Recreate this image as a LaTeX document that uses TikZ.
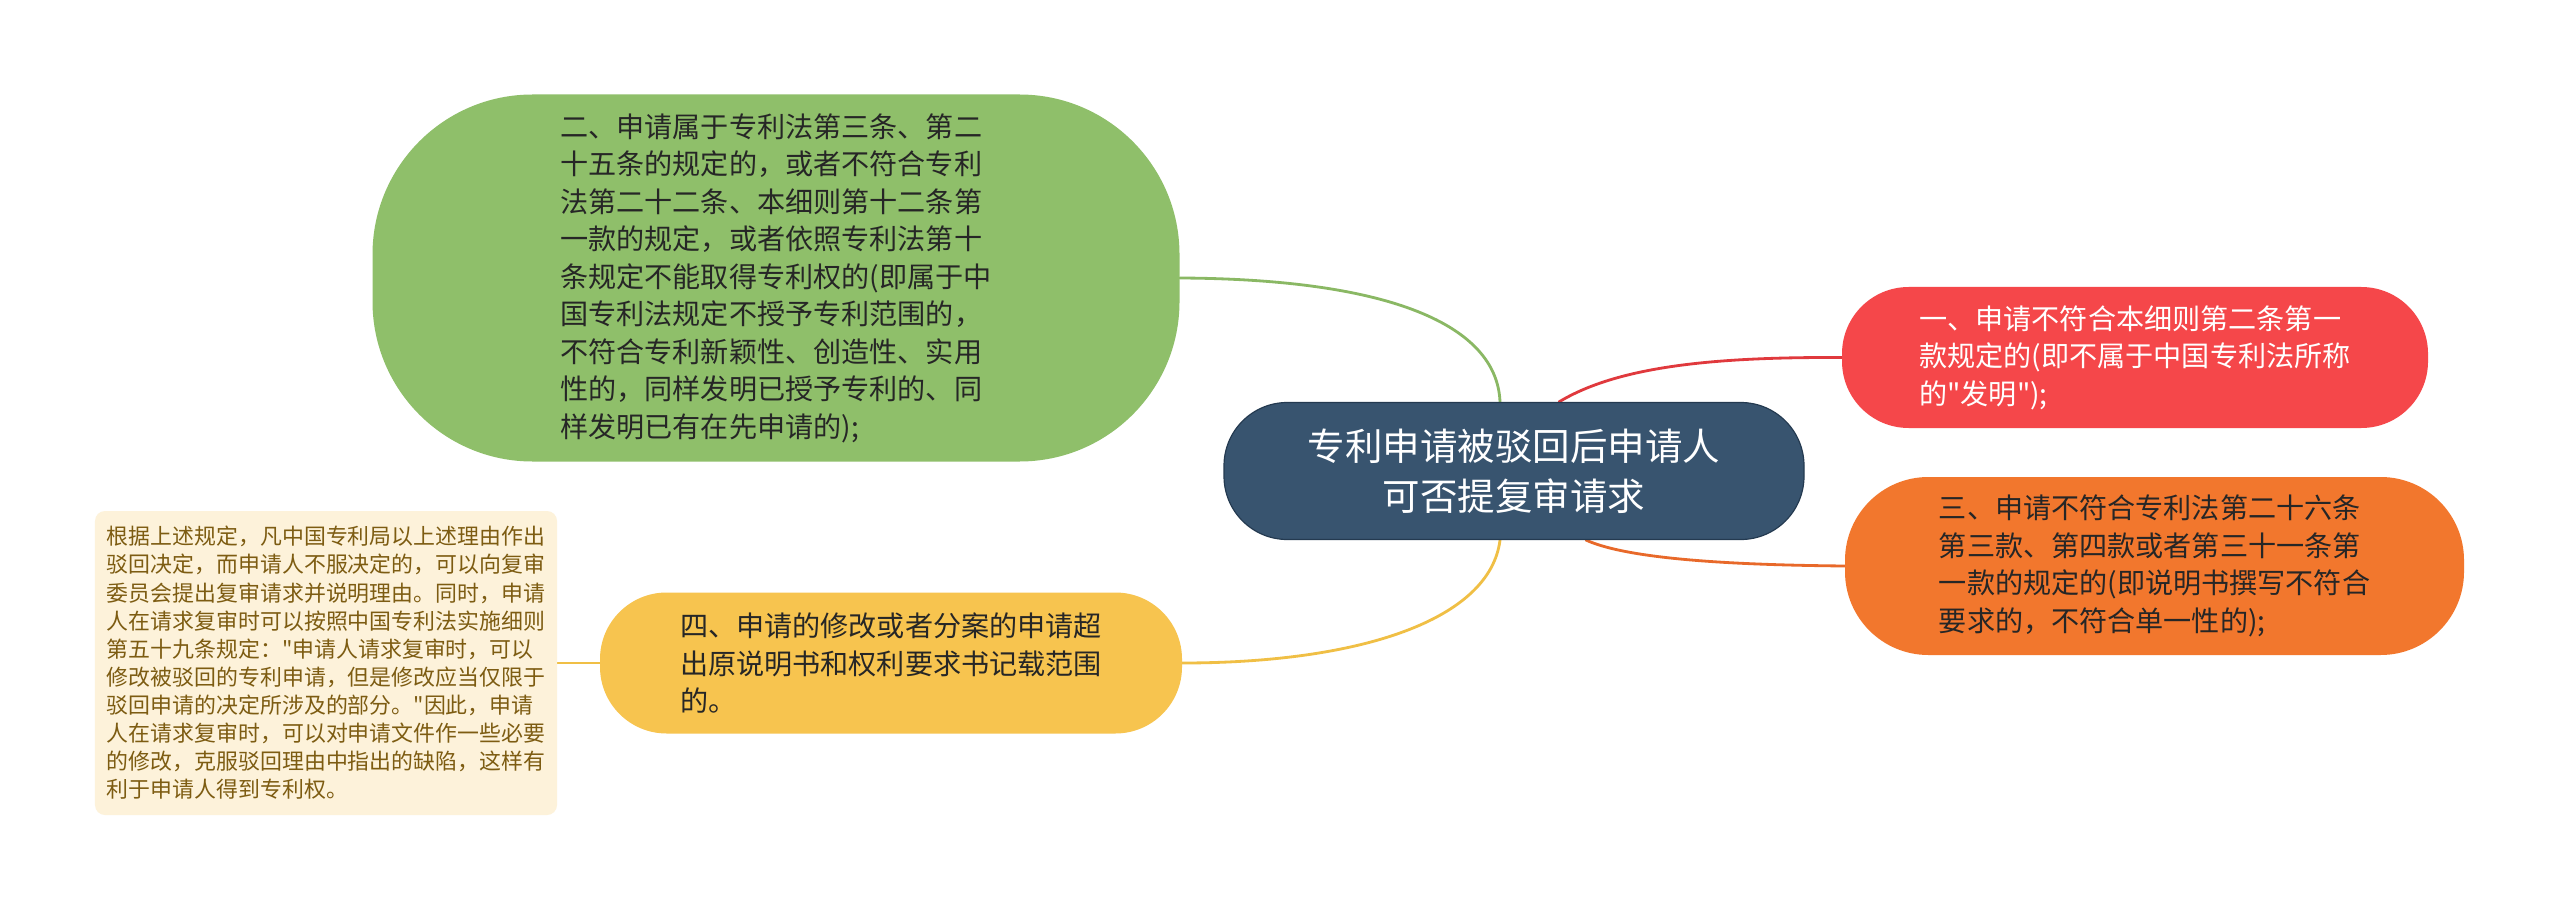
\documentclass[tikz,border=0pt]{standalone}
\usepackage{fontspec}
\setmainfont{Noto Sans CJK SC}[Ligatures=TeXOff]
\usetikzlibrary{backgrounds}
\definecolor{hubc}{HTML}{38546F}
\definecolor{hubd}{HTML}{243A50}
\definecolor{greenc}{HTML}{8FBF6A}
\definecolor{greenl}{HTML}{8AB864}
\definecolor{redc}{HTML}{F5474A}
\definecolor{redl}{HTML}{E0393D}
\definecolor{orangec}{HTML}{F2772D}
\definecolor{orangel}{HTML}{E8692A}
\definecolor{yellowc}{HTML}{F7C44F}
\definecolor{yellowl}{HTML}{F0BF45}
\definecolor{notec}{HTML}{FDF2DA}
\definecolor{notet}{HTML}{7D5C12}
\definecolor{darkt}{HTML}{262626}
\begin{document}
\begin{tikzpicture}[x=0.3mm,y=-0.3mm,
  topic/.style={rectangle, inner sep=0pt, align=left, font=\fontsize{24pt}{32pt}\selectfont},
  conn/.style={line width=2.4pt, line cap=round}]
\useasboundingbox (0,0) rectangle (2560,911);

\node[rectangle, inner sep=0pt, align=center, fill=hubc, draw=hubd, line width=1pt,
  minimum width=174mm, minimum height=41.1mm, rounded corners=19mm, text=white,
  font=\fontsize{32pt}{42.7pt}\selectfont] (hub) at (1514,471)
  {专利申请被驳回后申请人\\可否提复审请求};

\node[topic, fill=greenc, minimum width=242.1mm, minimum height=110.1mm,
  rounded corners=48mm, text=darkt] (green) at (776,278)
  {二、申请属于专利法第三条、第二\\十五条的规定的，或者不符合专利\\法第二十二条、本细则第十二条第\\一款的规定，或者依照专利法第十\\条规定不能取得专利权的(即属于中\\国专利法规定不授予专利范围的，\\不符合专利新颖性、创造性、实用\\性的，同样发明已授予专利的、同\\样发明已有在先申请的);};

\node[topic, fill=redc, minimum width=175.8mm, minimum height=42.3mm,
  rounded corners=20mm, text=white] (red) at (2135,357.5)
  {一、申请不符合本细则第二条第一\\款规定的(即不属于中国专利法所称\\的"发明");};

\node[topic, fill=orangec, minimum width=185.7mm, minimum height=53.4mm,
  rounded corners=25mm, text=darkt] (orange) at (2154.5,566)
  {三、申请不符合专利法第二十六条\\第三款、第四款或者第三十一条第\\一款的规定的(即说明书撰写不符合\\要求的，不符合单一性的);};

\node[topic, fill=yellowc, minimum width=174.6mm, minimum height=42.3mm,
  rounded corners=20mm, text=darkt] (yellow) at (891,663)
  {四、申请的修改或者分案的申请超\\出原说明书和权利要求书记载范围\\的。};

\node[rectangle, inner sep=0pt, align=left, fill=notec, minimum width=138.6mm,
  minimum height=91.2mm, rounded corners=3mm, text=notet,
  font=\fontsize{18.7pt}{24pt}\selectfont] (note) at (326,663)
  {根据上述规定，凡中国专利局以上述理由作出\\驳回决定，而申请人不服决定的，可以向复审\\委员会提出复审请求并说明理由。同时，申请\\人在请求复审时可以按照中国专利法实施细则\\第五十九条规定："申请人请求复审时，可以\\修改被驳回的专利申请，但是修改应当仅限于\\驳回申请的决定所涉及的部分。"因此，申请\\人在请求复审时，可以对申请文件作一些必要\\的修改，克服驳回理由中指出的缺陷，这样有\\利于申请人得到专利权。};

\begin{scope}[on background layer]
\fill[white] (0,0) rectangle (2560,911);
\draw[conn, greenl] (green.east) .. controls (1390,279) and (1497,325) .. ([xshift=-4.2mm]hub.north);
\draw[conn, redl] ([xshift=13.5mm]hub.north) .. controls (1620,365) and (1720,357) .. (red.west);
\draw[conn, orangel] ([xshift=21.6mm]hub.south) .. controls (1630,560) and (1740,565) .. (orange.west);
\draw[conn, yellowl] ([xshift=-4.2mm]hub.south) .. controls (1490,620) and (1360,663) .. (yellow.east);
\draw[conn, yellowl] (yellow.west) -- (note.east);
\end{scope}
\end{tikzpicture}
\end{document}
